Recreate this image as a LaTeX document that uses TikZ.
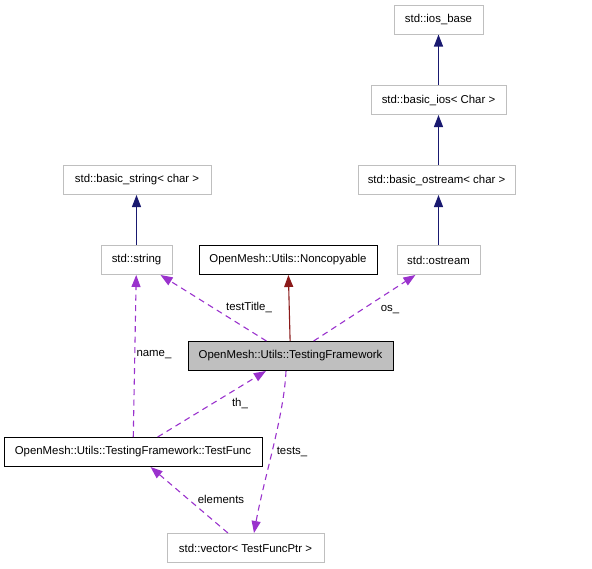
\documentclass[tikz,border=0pt]{standalone}
\usepackage{fontspec}
\setmainfont{Liberation Sans}
\usetikzlibrary{arrows.meta}
\definecolor{edgenavy}{HTML}{191970}
\definecolor{edgered}{HTML}{8B1A1A}
\definecolor{edgepurple}{HTML}{9A32CD}
\definecolor{boxgray}{HTML}{BFBFBF}
\begin{document}
\begin{tikzpicture}[x=1pt,y=-1pt,>={Triangle[length=12pt,width=9pt]},
        font=\fontsize{11.4}{13}\selectfont,
        cls/.style={draw=boxgray,line width=1pt,minimum height=29pt,inner sep=0pt},
        doccls/.style={cls,draw=black},
        focuscls/.style={doccls,fill=boxgray},
        inherit/.style={->,edgenavy,line width=1.1pt},
        privinherit/.style={->,edgered,line width=1.1pt},
        member/.style={->,edgepurple,line width=1.1pt,dash pattern=on 6pt off 4.5pt},
        lbl/.style={inner sep=0pt,text=black}]
        \useasboundingbox (0,0) rectangle (592,568);

        \node[cls,minimum width=89pt] (iosbase) at (438.5,19.5) {std::ios\_base};
        \node[cls,minimum width=135pt] (basicios) at (438.5,100) {std::basic\_ios< Char >};
        \node[cls,minimum width=157pt] (basicostream) at (436.5,180) {std::basic\_ostream< char >};
        \node[cls,minimum width=148pt] (basicstring) at (137,180) {std::basic\_string< char >};

        \node[cls,minimum width=71pt] (string) at (136.5,260) {std::string};
        \node[doccls,minimum width=178pt] (noncopyable) at (288,260) {OpenMesh::Utils::Noncopyable};
        \node[cls,minimum width=83pt] (ostream) at (438.5,260) {std::ostream};

        \node[focuscls,minimum width=205pt] (framework) at (290.5,356) {OpenMesh::Utils::TestingFramework};
        \node[doccls,minimum width=258pt] (testfunc) at (133,452) {OpenMesh::Utils::TestingFramework::TestFunc};
        \node[cls,minimum width=157pt] (vector) at (245.5,548) {std::vector< TestFuncPtr >};

        \draw[inherit] (basicios) -- (iosbase);
        \draw[inherit] (basicostream.north -| basicios) -- (basicios);
        \draw[inherit] (ostream) -- (ostream |- basicostream.south);
        \draw[inherit] (string) -- (string |- basicstring.south);
        \draw[privinherit] (framework) -- (noncopyable);

        \draw[member] (framework) -- (string)
            node[lbl] (lbltitle) at (249,307) {testTitle\_};
        \draw[member] (framework) -- (ostream)
            node[lbl] (lblos) at (390,310) {os\_};
        \draw[member] (testfunc) -- (string)
            node[lbl] (lblname) at (154,355) {name\_};
        \draw[member] (testfunc) -- (framework)
            node[lbl] (lblth) at (240,403) {th\_};
        \draw[member] ([xshift=-4.5pt]framework.south)
            .. controls +(-2,45) and +(10,-55) .. ([xshift=8.5pt]vector.north)
            node[lbl] (lbltests) at (292,452) {tests\_};
        \draw[member] (vector) -- (testfunc)
            node[lbl] (lblelements) at (221,499) {elements};
    \end{tikzpicture}
\end{document}
